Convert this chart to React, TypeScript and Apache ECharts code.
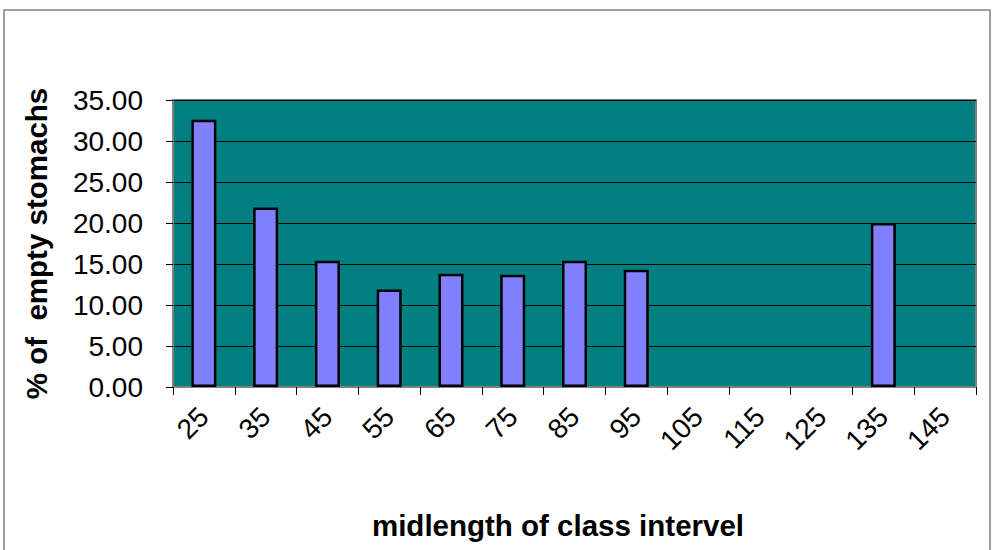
import React, { useEffect, useRef } from "react";
import * as echarts from "echarts";

const categories = ["25", "35", "45", "55", "65", "75", "85", "95", "105", "115", "125", "135", "145"];
const emptyPct: (number | null)[] = [32.6, 21.9, 15.4, 11.9, 13.8, 13.7, 15.4, 14.3, null, null, null, 20.0, null];
const yTicks = { min: 0, max: 35, interval: 5 };
const xTitle = "midlength of class intervel";
const yTitle = "% of  empty stomachs";

export default function App() {
  const ref = useRef<HTMLDivElement>(null);
  useEffect(() => {
    if (!ref.current) return;
    const chart = echarts.init(ref.current, undefined, { renderer: "svg" });
    const font = "Arial, 'Liberation Sans', sans-serif";
    chart.setOption({
      animation: false,
      backgroundColor: "#ffffff",
      graphic: [
        {
          type: "rect",
          shape: { x: 4, y: 10, width: 986, height: 600 },
          style: { fill: "none", stroke: "#808080", lineWidth: 1.5 },
          silent: true,
          z: -10,
        },
      ],
      grid: {
        left: 173,
        top: 100,
        width: 803,
        height: 287,
        show: true,
        backgroundColor: "#008080",
        borderColor: "#808080",
        borderWidth: 2,
      },
      xAxis: {
        type: "category",
        data: categories,
        boundaryGap: true,
        name: xTitle,
        nameLocation: "middle",
        nameGap: 123,
        nameTextStyle: {
          fontFamily: font,
          fontSize: 29.5,
          fontWeight: "bold",
          color: "#000",
          padding: [0, 33, 0, 0],
        },
        axisLine: { show: true, lineStyle: { color: "#808080", width: 2 } },
        axisTick: { show: true, length: 8, lineStyle: { color: "#000", width: 1 } },
        axisLabel: {
          rotate: 45,
          interval: 0,
          margin: 25,
          fontFamily: font,
          fontSize: 28,
          color: "#000",
        },
        splitLine: { show: false },
      },
      yAxis: {
        type: "value",
        min: yTicks.min,
        max: yTicks.max,
        interval: yTicks.interval,
        name: yTitle,
        nameLocation: "middle",
        nameGap: 122,
        nameTextStyle: {
          fontFamily: font,
          fontSize: 29.5,
          fontWeight: "bold",
          color: "#000",
        },
        axisLine: { show: true, lineStyle: { color: "#808080", width: 2 } },
        axisTick: { show: true, length: 7, lineStyle: { color: "#000", width: 1 } },
        axisLabel: {
          margin: 30,
          fontFamily: font,
          fontSize: 28,
          color: "#000",
          formatter: (v: number) => v.toFixed(2),
        },
        splitLine: { show: true, lineStyle: { color: "#000", width: 1 } },
      },
      series: [
        {
          type: "bar",
          data: emptyPct,
          barWidth: 25,
          itemStyle: { color: "#8080FF", borderColor: "#000", borderWidth: 2.5 },
        },
      ],
    });
    return () => chart.dispose();
  }, []);
  return (
    <div
      ref={ref}
      style={{ position: "fixed", left: 0, top: 0, width: 993, height: 550 }}
    />
  );
}
